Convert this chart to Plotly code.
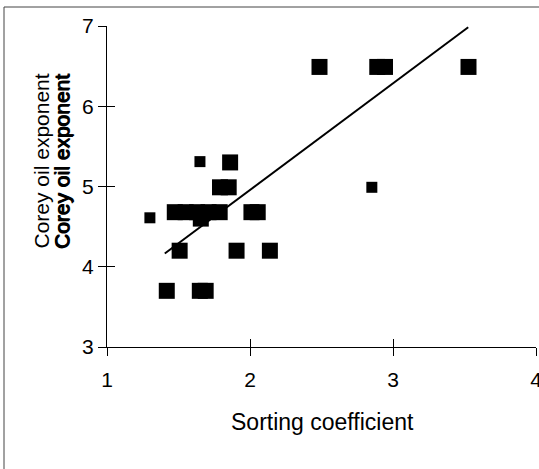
import plotly.graph_objects as go

# Main (large marker) series
sorting_large = [2.486, 2.89, 2.944, 3.528,
                 1.861,
                 1.79, 1.851,
                 1.474, 1.55, 1.63, 1.71, 1.788, 2.01, 2.054,
                 1.656,
                 1.508, 1.906, 2.139,
                 1.418, 1.649, 1.69]
corey_large = [6.49, 6.49, 6.49, 6.49,
               5.30,
               4.99, 4.99,
               4.68, 4.68, 4.68, 4.68, 4.68, 4.68, 4.68,
               4.60,
               4.20, 4.20, 4.20,
               3.70, 3.70, 3.70]

# Smaller marker series
sorting_small = [1.30, 1.65, 2.852]
corey_small = [4.61, 5.31, 4.99]

# Trend line
trend_x = [1.404, 3.526]
trend_y = [4.165, 6.984]

x_ticks = [1, 2, 3, 4]
y_ticks = [3, 4, 5, 6, 7]

FONT = "Arial, 'Liberation Sans', sans-serif"
W, H = 539, 469
ML, MR, MT, MB = 107, 3, 26, 122
PW = W - ML - MR
PH = H - MT - MB

def px(xp):
    return (xp - ML) / PW

def py(yp):
    return (H - MB - yp) / PH

fig = go.Figure()
fig.add_trace(go.Scatter(x=trend_x, y=trend_y, mode="lines",
                         line=dict(color="black", width=2),
                         showlegend=False, hoverinfo="skip"))
fig.add_trace(go.Scatter(x=sorting_large, y=corey_large, mode="markers",
                         marker=dict(symbol="square", size=16, color="black",
                                     line=dict(width=0)),
                         showlegend=False, cliponaxis=False))
fig.add_trace(go.Scatter(x=sorting_small, y=corey_small, mode="markers",
                         marker=dict(symbol="square", size=11, color="black",
                                     line=dict(width=0)),
                         showlegend=False, cliponaxis=False))
# dummy trace for overlay axes (inside ticks)
fig.add_trace(go.Scatter(x=[None], y=[None], xaxis="x2", yaxis="y2",
                         showlegend=False, hoverinfo="skip"))

tick_font = dict(family=FONT, size=21, color="black")
axis_common = dict(showgrid=False, zeroline=False, ticks="outside", ticklen=8,
                   tickwidth=1, tickcolor="black", showline=True,
                   linecolor="black", linewidth=1, automargin=False,
                   ticklabeloverflow="allow")

fig.update_layout(
    template="none",
    width=W, height=H,
    margin=dict(l=ML, r=MR, t=MT, b=MB, autoexpand=False),
    paper_bgcolor="white", plot_bgcolor="white",
    font=dict(family=FONT, size=21, color="black"),
    xaxis=dict(range=[1, 4], tickvals=x_ticks, ticklabelstandoff=6,
               tickfont=tick_font, **axis_common),
    yaxis=dict(range=[3, 7], tickvals=y_ticks, ticklabelstandoff=0,
               tickfont=tick_font, **axis_common),
    xaxis2=dict(range=[1, 4], tickvals=x_ticks, overlaying="x", anchor="y2",
                ticks="inside", ticklen=8, tickcolor="black", tickwidth=1,
                showticklabels=False, showline=False, showgrid=False,
                zeroline=False, automargin=False),
    yaxis2=dict(range=[3, 7], tickvals=y_ticks, overlaying="y", anchor="x2",
                ticks="inside", ticklen=8, tickcolor="black", tickwidth=1,
                showticklabels=False, showline=False, showgrid=False,
                zeroline=False, automargin=False),
    showlegend=False,
)

# outer frame
fig.add_shape(type="rect", xref="paper", yref="paper",
              x0=px(4), x1=px(560), y0=py(490), y1=py(7),
              line=dict(color="#444444", width=1), fillcolor="rgba(0,0,0,0)",
              layer="below")

# axis titles
fig.add_annotation(text="Sorting coefficient", xref="paper", yref="paper",
                   x=px(322), y=py(422), xanchor="center", yanchor="middle",
                   showarrow=False, font=dict(family=FONT, size=23, color="black"))
fig.add_annotation(text="Corey oil exponent", xref="paper", yref="paper",
                   x=px(41), y=py(161.5), xanchor="center", yanchor="middle",
                   textangle=-90, showarrow=False,
                   font=dict(family=FONT, size=21, color="black"))
for dx, dy in ((61, 0.0), (61, 1.0), (62, 0.0)):
    fig.add_annotation(text="Corey oil exponent", xref="paper", yref="paper",
                       x=px(dx), y=py(161.5 + dy), xanchor="center", yanchor="middle",
                       textangle=-90, showarrow=False,
                       font=dict(family=FONT, size=21, color="black"))

fig.write_html("out.html", config={"displayModeBar": False},
               post_script="document.body.style.margin='0';document.body.style.overflow='hidden';")
